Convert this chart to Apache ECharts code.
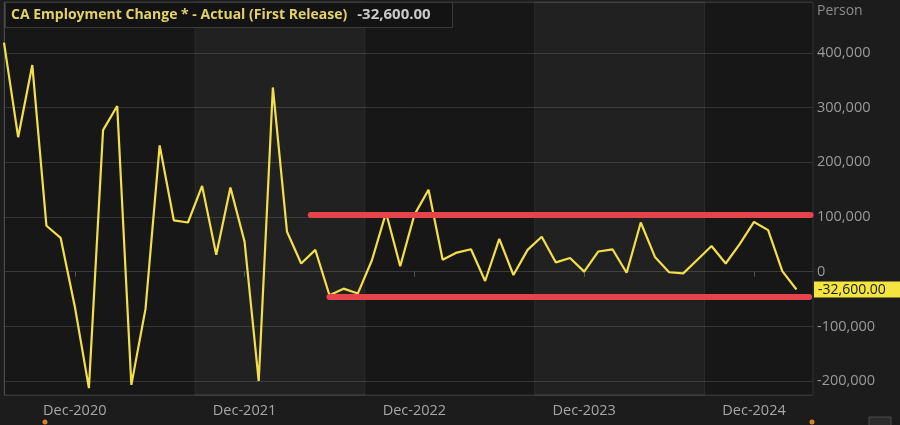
<!DOCTYPE html>
<html>
<head>
<meta charset="utf-8">
<script src="https://cdn.jsdelivr.net/npm/echarts@6/dist/echarts.min.js"></script>
<style>
  html, body { margin: 0; padding: 0; background: #1c1c1c; }
  #chart { width: 900px; height: 425px; }
</style>
</head>
<body>
<div id="chart"></div>
<script>
// ---- data ----
const seriesName = 'CA Employment Change * - Actual (First Release)';
const unitName = 'Person';
const months = [
  'Jul-2020','Aug-2020','Sep-2020','Oct-2020','Nov-2020','Dec-2020',
  'Jan-2021','Feb-2021','Mar-2021','Apr-2021','May-2021','Jun-2021','Jul-2021','Aug-2021','Sep-2021','Oct-2021','Nov-2021','Dec-2021',
  'Jan-2022','Feb-2022','Mar-2022','Apr-2022','May-2022','Jun-2022','Jul-2022','Aug-2022','Sep-2022','Oct-2022','Nov-2022','Dec-2022',
  'Jan-2023','Feb-2023','Mar-2023','Apr-2023','May-2023','Jun-2023','Jul-2023','Aug-2023','Sep-2023','Oct-2023','Nov-2023','Dec-2023',
  'Jan-2024','Feb-2024','Mar-2024','Apr-2024','May-2024','Jun-2024','Jul-2024','Aug-2024','Sep-2024','Oct-2024','Nov-2024','Dec-2024',
  'Jan-2025','Feb-2025','Mar-2025'
];
const employmentChange = [
  419000, 246000, 378000, 84000, 62000, -63000,
  -213000, 259000, 303000, -207000, -68000, 231000, 94000, 90000, 157000, 31000, 154000, 55000,
  -200000, 337000, 73000, 15000, 40000, -43000, -31000, -40000, 21000, 108000, 10000, 104000,
  150000, 22000, 35000, 41000, -17000, 60000, -6000, 40000, 64000, 17000, 25000, 100,
  37000, 41000, -2000, 90000, 27000, -1000, -3000, 22000, 47000, 15000, 51000, 91000,
  76000, 1000, -32600
];
const xTickMonths = ['Dec-2020', 'Dec-2021', 'Dec-2022', 'Dec-2023', 'Dec-2024'];
const yTickValues = [-200000, -100000, 0, 100000, 200000, 300000, 400000];
// range lines drawn on the chart: [start month, level]
const rangeUpper = { from: 'May-2022', level: 104000 };
const rangeLower = { from: 'Jun-2022', level: -45000 };
// alternating shaded period bands (month index boundaries)
const bandEdges = [[13.5, 25.5], [37.5, 49.5]];

// ---- build ----
const idx = m => months.indexOf(m);
const seriesData = employmentChange.map((v, i) => [i, v]);
const lastVal = employmentChange[employmentChange.length - 1];
const fmtInt = v => v.toLocaleString('en-US');
const fmt2 = v => v.toLocaleString('en-US', { minimumFractionDigits: 2, maximumFractionDigits: 2 });
const xMax = 57.17;
const FONT = 'Open Sans';

const chart = echarts.init(document.getElementById('chart'), null, { renderer: 'canvas' });
chart.setOption({
  backgroundColor: '#1c1c1c',
  animation: false,
  title: {
    text: '{a|' + seriesName + '}  {b|' + fmt2(lastVal) + '}',
    left: 5, top: 2,
    padding: [4, 22, 4, 6],
    backgroundColor: '#131313',
    borderColor: '#3a3a3a',
    borderWidth: 1,
    textStyle: {
      rich: {
        a: { color: '#e3d26a', fontSize: 14, fontFamily: FONT, lineHeight: 17 },
        b: { color: '#c8c8c8', fontSize: 15, fontFamily: FONT, lineHeight: 17 }
      }
    }
  },
  grid: {
    left: 4, right: 87, top: 2, bottom: 30,
    show: true,
    backgroundColor: '#171717',
    borderColor: '#333333',
    borderWidth: 1
  },
  xAxis: {
    type: 'value',
    min: 0, max: xMax,
    splitLine: { show: false },
    axisLine: { show: true, lineStyle: { color: '#3a3a3a' } },
    axisTick: {
      show: true, length: 5, lineStyle: { color: '#555' },
      customValues: xTickMonths.map(idx)
    },
    axisLabel: {
      customValues: xTickMonths.map(idx),
      formatter: v => months[Math.round(v)],
      color: '#a6a6a6', fontSize: 14.5, fontFamily: FONT, margin: 8
    }
  },
  yAxis: {
    type: 'value',
    position: 'right',
    min: -225500, max: 493300,
    axisLine: { show: true, lineStyle: { color: '#4a4a4a' } },
    axisTick: { show: false },
    splitLine: { show: true, lineStyle: { color: '#353535', width: 1 } },
    axisLabel: {
      customValues: yTickValues,
      formatter: v => fmtInt(v),
      color: '#9a9a9a', fontSize: 14.5, fontFamily: FONT, margin: 4, align: 'left',
      padding: [6, 0, 0, 0]
    }
  },
  series: [{
    name: seriesName,
    type: 'line',
    data: seriesData,
    showSymbol: false,
    symbol: 'none',
    lineStyle: { color: '#f2df4a', width: 2.2 },
    itemStyle: { color: '#f2df4a' },
    silent: true,
    z: 3,
    markArea: {
      silent: true,
      itemStyle: { color: 'rgba(255,255,255,0.045)', borderColor: 'rgba(255,255,255,0.07)', borderWidth: 1 },
      data: bandEdges.map(b => [{ xAxis: b[0] }, { xAxis: b[1] }])
    },
    markLine: {
      silent: true,
      symbol: ['none', 'none'],
      animation: false,
      data: [
        [
          { coord: [idx(rangeUpper.from) - 0.32, rangeUpper.level], lineStyle: { color: '#e5454a', width: 6, type: 'solid', cap: 'round' }, label: { show: false } },
          { coord: [57.0, rangeUpper.level] }
        ],
        [
          { coord: [idx(rangeLower.from), rangeLower.level], lineStyle: { color: '#e5454a', width: 6, type: 'solid', cap: 'round' }, label: { show: false } },
          { coord: [56.9, rangeLower.level] }
        ],
        {
          yAxis: lastVal,
          lineStyle: { color: 'rgba(0,0,0,0)', width: 1, type: 'solid' },
          label: {
            show: true, position: 'end', distance: 1,
            formatter: fmt2(lastVal),
            backgroundColor: '#f3e43f', color: '#1a1a1a',
            fontSize: 14, fontFamily: FONT, lineHeight: 14,
            padding: [1, 18, 1, 4]
          }
        }
      ]
    }
  }],
  graphic: [
    { type: 'text', left: 817, top: 4, style: { text: unitName, fill: '#8c8c8c', fontSize: 14, fontFamily: FONT }, silent: true },
    { type: 'circle', shape: { cx: 45, cy: 422, r: 2.5 }, style: { fill: '#d9822b' }, silent: true },
    { type: 'circle', shape: { cx: 812, cy: 422, r: 2.5 }, style: { fill: '#d9822b' }, silent: true },
    { type: 'rect', shape: { x: 869, y: 417, width: 22, height: 10 }, style: { fill: '#2c2c2c', stroke: '#4a4a4a', lineWidth: 1 }, silent: true }
  ]
});
</script>
</body>
</html>
